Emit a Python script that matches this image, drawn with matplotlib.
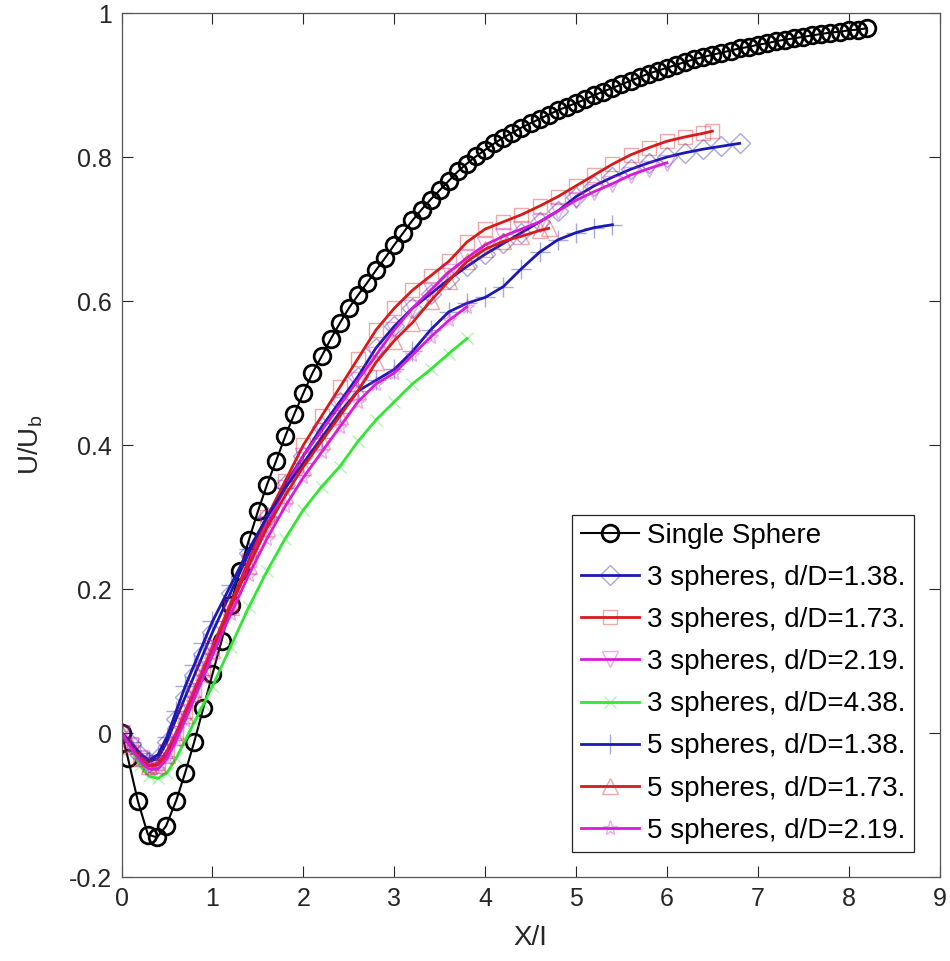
import numpy as np
import matplotlib
matplotlib.use('Agg')
import matplotlib.pyplot as plt

plt.rcParams['font.family'] = ['Liberation Sans', 'DejaVu Sans']

# Single sphere
x_single = [0, 0.07, 0.18, 0.29, 0.39, 0.49, 0.6, 0.7, 0.8, 0.9, 1.0,
            1.1, 1.2, 1.3, 1.4, 1.5, 1.6, 1.7, 1.8, 1.9, 2.0,
            2.1, 2.2, 2.3, 2.4, 2.5, 2.6, 2.7, 2.8, 2.9, 3.0,
            3.1, 3.2, 3.3, 3.4, 3.5, 3.6, 3.7, 3.8, 3.9, 4.0,
            4.1, 4.2, 4.3, 4.4, 4.5, 4.6, 4.7, 4.8, 4.9, 5.0,
            5.1, 5.2, 5.3, 5.4, 5.5, 5.6, 5.7, 5.8, 5.9, 6.0,
            6.1, 6.2, 6.3, 6.4, 6.5, 6.6, 6.7, 6.8, 6.9, 7.0,
            7.1, 7.2, 7.3, 7.4, 7.5, 7.6, 7.7, 7.8, 7.9, 8.0,
            8.1, 8.2]
y_single = [0, -0.035, -0.095, -0.141, -0.145, -0.129, -0.094, -0.055, -0.012, 0.035, 0.082,
            0.128, 0.178, 0.225, 0.268, 0.308, 0.345, 0.378, 0.412, 0.443, 0.472,
            0.5, 0.523, 0.547, 0.569, 0.59, 0.608, 0.625, 0.643, 0.66, 0.678,
            0.695, 0.712, 0.727, 0.741, 0.754, 0.767, 0.78, 0.791, 0.801, 0.81,
            0.819, 0.827, 0.834, 0.841, 0.847, 0.853, 0.859, 0.865, 0.87, 0.875,
            0.88, 0.886, 0.891, 0.896, 0.901, 0.906, 0.911, 0.916, 0.92, 0.924,
            0.928, 0.932, 0.936, 0.939, 0.942, 0.945, 0.948, 0.951, 0.953, 0.956,
            0.958, 0.961, 0.963, 0.965, 0.967, 0.969, 0.971, 0.973, 0.974, 0.976,
            0.977, 0.979]

# 3 spheres, d/D=1.38
x_3_138 = [0, 0.1, 0.2, 0.3, 0.4, 0.5, 0.6, 0.7, 0.8, 0.9, 1.0, 1.2, 1.4, 1.6, 1.8, 2.0,
           2.2, 2.4, 2.6, 2.8, 3.0, 3.2, 3.4, 3.6, 3.8, 4.0, 4.2, 4.4, 4.6, 4.8, 5.0,
           5.2, 5.4, 5.6, 5.8, 6.0, 6.2, 6.4, 6.6, 6.8]
y_3_138 = [0, -0.015, -0.03, -0.04, -0.035, -0.012, 0.02, 0.05, 0.08, 0.11, 0.14, 0.195, 0.25, 0.3, 0.345, 0.385,
           0.425, 0.46, 0.495, 0.535, 0.565, 0.59, 0.61, 0.63, 0.648, 0.665, 0.68, 0.695, 0.71, 0.725, 0.745,
           0.76, 0.772, 0.783, 0.792, 0.8, 0.806, 0.811, 0.815, 0.819]

# 3 spheres, d/D=1.73
x_3_173 = [0, 0.1, 0.2, 0.3, 0.4, 0.5, 0.6, 0.7, 0.8, 0.9, 1.0, 1.2, 1.4, 1.6, 1.8, 2.0,
           2.2, 2.4, 2.6, 2.8, 3.0, 3.2, 3.4, 3.6, 3.8, 4.0, 4.2, 4.4, 4.6, 4.8, 5.0,
           5.2, 5.4, 5.6, 5.8, 6.0, 6.2, 6.4, 6.5]
y_3_173 = [0, -0.015, -0.035, -0.045, -0.042, -0.025, 0.0, 0.03, 0.06, 0.09, 0.12, 0.18, 0.24, 0.3, 0.35, 0.4,
           0.44, 0.48, 0.52, 0.56, 0.59, 0.615, 0.635, 0.655, 0.682, 0.7, 0.71, 0.72, 0.732, 0.745, 0.76,
           0.775, 0.79, 0.803, 0.813, 0.822, 0.828, 0.833, 0.836]

# 3 spheres, d/D=2.19
x_3_219 = [0, 0.1, 0.2, 0.3, 0.4, 0.5, 0.6, 0.7, 0.8, 0.9, 1.0, 1.2, 1.4, 1.6, 1.8, 2.0,
           2.2, 2.4, 2.6, 2.8, 3.0, 3.2, 3.4, 3.6, 3.8, 4.0, 4.2, 4.4, 4.6, 4.8, 5.0,
           5.2, 5.4, 5.6, 5.8, 6.0]
y_3_219 = [0, -0.018, -0.035, -0.045, -0.043, -0.028, -0.002, 0.028, 0.058, 0.088, 0.118, 0.175, 0.235, 0.29, 0.34, 0.385,
           0.42, 0.455, 0.49, 0.525, 0.56, 0.59, 0.615, 0.64, 0.66, 0.678, 0.69, 0.7, 0.71, 0.725, 0.74,
           0.752, 0.763, 0.775, 0.784, 0.792]

# 3 spheres, d/D=4.38
x_3_438 = [0, 0.1, 0.2, 0.3, 0.4, 0.5, 0.6, 0.7, 0.8, 0.9, 1.0, 1.2, 1.4, 1.6, 1.8, 2.0,
           2.2, 2.4, 2.6, 2.8, 3.0, 3.2, 3.4, 3.6, 3.8]
y_3_438 = [0, -0.02, -0.045, -0.06, -0.063, -0.055, -0.035, -0.01, 0.015, 0.04, 0.065, 0.12, 0.175, 0.225, 0.27, 0.31,
           0.342, 0.37, 0.405, 0.435, 0.46, 0.485, 0.505, 0.527, 0.548]

# 5 spheres, d/D=1.38
x_5_138 = [0, 0.1, 0.2, 0.3, 0.4, 0.5, 0.6, 0.7, 0.8, 0.9, 1.0, 1.2, 1.4, 1.6, 1.8, 2.0,
           2.2, 2.4, 2.6, 2.8, 3.0, 3.2, 3.4, 3.6, 3.8, 4.0, 4.2, 4.4, 4.6, 4.8, 5.0,
           5.2, 5.4]
y_5_138 = [0, -0.012, -0.028, -0.038, -0.03, -0.005, 0.03, 0.065, 0.095, 0.125, 0.155, 0.205, 0.255, 0.3, 0.34, 0.375,
           0.41, 0.445, 0.475, 0.49, 0.505, 0.53, 0.56, 0.585, 0.597, 0.605, 0.62, 0.645, 0.668, 0.685, 0.695,
           0.702, 0.706]

# 5 spheres, d/D=1.73
x_5_173 = [0, 0.1, 0.2, 0.3, 0.4, 0.5, 0.6, 0.7, 0.8, 0.9, 1.0, 1.2, 1.4, 1.6, 1.8, 2.0,
           2.2, 2.4, 2.6, 2.8, 3.0, 3.2, 3.4, 3.6, 3.8, 4.0, 4.2, 4.4, 4.6, 4.7]
y_5_173 = [0, -0.018, -0.035, -0.046, -0.044, -0.03, -0.005, 0.025, 0.055, 0.085, 0.115, 0.175, 0.232, 0.285, 0.33, 0.37,
           0.405, 0.44, 0.475, 0.515, 0.545, 0.57, 0.6, 0.628, 0.655, 0.672, 0.683, 0.69, 0.698, 0.701]

# 5 spheres, d/D=2.19
x_5_219 = [0, 0.1, 0.2, 0.3, 0.4, 0.5, 0.6, 0.7, 0.8, 0.9, 1.0, 1.2, 1.4, 1.6, 1.8, 2.0,
           2.2, 2.4, 2.6, 2.8, 3.0, 3.2, 3.4, 3.6, 3.8]
y_5_219 = [0, -0.02, -0.038, -0.05, -0.05, -0.035, -0.01, 0.018, 0.048, 0.078, 0.108, 0.165, 0.22, 0.27, 0.315, 0.355,
           0.39, 0.425, 0.46, 0.485, 0.5, 0.525, 0.55, 0.573, 0.592]

labels = ['Single Sphere',
          '3 spheres, d/D=1.38.', '3 spheres, d/D=1.73.', '3 spheres, d/D=2.19.',
          '3 spheres, d/D=4.38.', '5 spheres, d/D=1.38.', '5 spheres, d/D=1.73.',
          '5 spheres, d/D=2.19.']

blue = (0.1, 0.1, 0.7)
red = (0.85, 0.1, 0.1)
magenta = (0.85, 0.1, 0.85)
green = (0.2, 0.9, 0.2)

series = [
    (x_3_138, y_3_138, blue, 'D', 10),
    (x_3_173, y_3_173, red, 's', 10),
    (x_3_219, y_3_219, magenta, 'v', 11),
    (x_3_438, y_3_438, green, 'x', 9),
    (x_5_138, y_5_138, blue, '+', 14),
    (x_5_173, y_5_173, red, '^', 11),
    (x_5_219, y_5_219, magenta, '*', 11),
]

fig = plt.figure(figsize=(9.5, 9.61), dpi=100)
ax = fig.add_axes([0.128, 0.0874, 0.861, 0.899])

ax.plot(x_single, y_single, color='black', lw=1.5, marker='o', ms=12,
        mfc='none', mec='black', mew=2.0, label=labels[0])

for (xs, ys, c, m, ms), lab in zip(series, labels[1:]):
    ax.plot(xs, ys, color=c, lw=2.0, marker=m, ms=ms, mfc='none',
            mec=(c[0], c[1], c[2], 0.38), mew=1.0, label=lab)

ax.set_xlim(0, 9)
ax.set_ylim(-0.2, 1)
ax.set_xticks(np.arange(0, 10, 1))
ax.set_yticks([-0.2, 0, 0.2, 0.4, 0.6, 0.8, 1])
ax.set_yticklabels(['-0.2', '0', '0.2', '0.4', '0.6', '0.8', '1'])
ax.tick_params(direction='in', length=8, width=0.8, colors='#262626',
               labelsize=18, top=True, right=True, pad=7)
for s in ax.spines.values():
    s.set_color('#555555')
    s.set_linewidth(0.9)

ax.set_xlabel('X/I', fontsize=20, color='#262626', labelpad=10)
ax.set_ylabel('U/U$_\\mathregular{b}$', fontsize=20, color='#262626', labelpad=17)

leg = ax.legend(loc='lower right', bbox_to_anchor=(0.969, 0.029), borderaxespad=0,
                fontsize=20, fancybox=False, framealpha=1, edgecolor='#262626',
                handlelength=2.1, handletextpad=0.3, borderpad=0.3, labelspacing=0.58)
leg.get_frame().set_linewidth(0.9)

fig.savefig('out.png', dpi=100)
